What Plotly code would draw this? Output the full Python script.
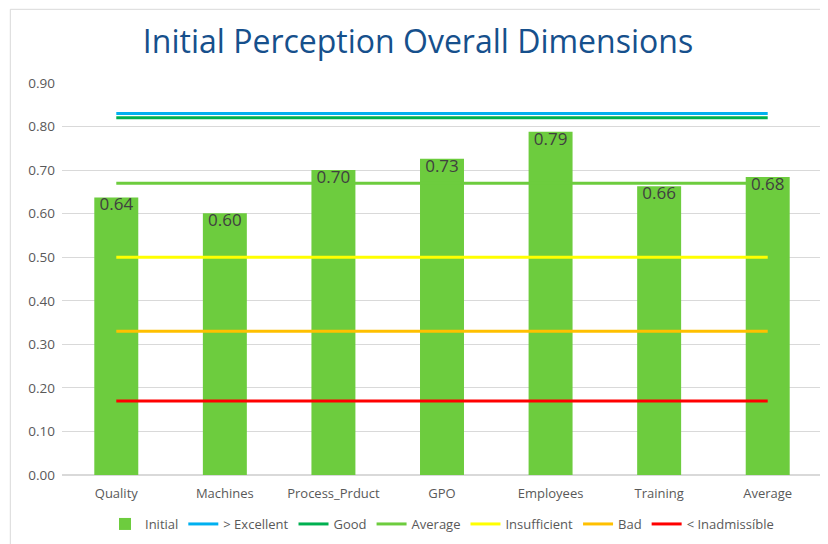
import plotly.graph_objects as go

categories = ["Quality", "Machines", "Process_Prduct", "GPO", "Employees", "Training", "Average"]
initial = [0.637, 0.601, 0.700, 0.726, 0.788, 0.663, 0.684]
labels = ["0.64", "0.60", "0.70", "0.73", "0.79", "0.66", "0.68"]

ref_names = ["> Excellent", "Good", "Average", "Insufficient", "Bad", "< Inadmissíble"]
ref_values = [0.83, 0.82, 0.67, 0.50, 0.33, 0.17]
ref_colors = ["#00B0F0", "#00B050", "#6DCC3E", "#FFFF00", "#FFC000", "#FF0000"]

FONT = "Open Sans"

fig = go.Figure()
fig.add_trace(go.Bar(
    x=categories, y=initial, name="Initial",
    marker=dict(color="#6DCC3E", line=dict(width=0)),
    width=0.405, hoverinfo="y",
))
for n, v, c in zip(ref_names, ref_values, ref_colors):
    fig.add_trace(go.Scatter(
        x=categories, y=[v] * len(categories), name=n, mode="lines",
        line=dict(color=c, width=3),
    ))
fig.add_trace(go.Scatter(
    x=categories, y=initial, text=labels, mode="text", textposition="bottom center",
    textfont=dict(color="#404040", size=17, family=FONT), showlegend=False, hoverinfo="skip",
))

fig.update_layout(
    width=820, height=536,
    paper_bgcolor="white", plot_bgcolor="white",
    margin=dict(l=54, r=6, t=75, b=69, autoexpand=False),
    title=dict(text="Initial Perception Overall Dimensions", x=0.5, xanchor="center",
               y=0.937, yanchor="middle",
               font=dict(family=FONT, size=32, color="#16508C")),
    font=dict(family=FONT, color="#595959"),
    xaxis=dict(showgrid=False, showline=False, ticks="", ticklabelstandoff=9,
               tickfont=dict(size=13, color="#595959")),
    yaxis=dict(range=[0, 0.9], dtick=0.1, tickformat=".2f", showgrid=True,
               gridcolor="#D9D9D9", gridwidth=1, zeroline=True, zerolinecolor="#D9D9D9",
               tickfont=dict(size=13.5, color="#595959"), ticklabelstandoff=6),
    legend=dict(orientation="h", x=0.5, xanchor="center", y=-0.125, yanchor="middle",
                font=dict(size=13, color="#595959"), itemwidth=30, tracegroupgap=0),
    showlegend=True,
)
fig.add_shape(type="rect", xref="paper", yref="paper",
              x0=-0.068, x1=1.005, y0=-0.3, y1=1.188,
              line=dict(color="#D9D9D9", width=1), layer="below")
fig.write_html("out.html")
